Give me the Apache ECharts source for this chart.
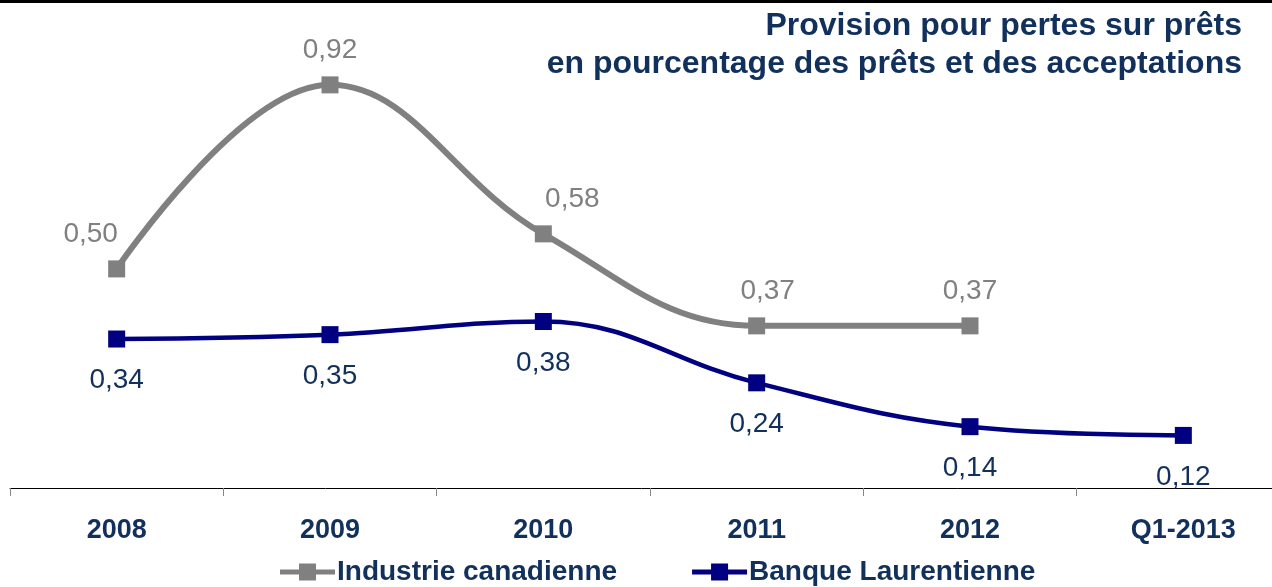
<!DOCTYPE html>
<html>
<head>
<meta charset="utf-8">
<script src="https://cdn.jsdelivr.net/npm/echarts@6/dist/echarts.min.js"></script>
<style>
  html, body { margin: 0; padding: 0; background: #fff; }
  #chart { width: 1272px; height: 587px; }
</style>
</head>
<body>
<div id="chart"></div>
<script>
// categories and values
var years = ['2008', '2009', '2010', '2011', '2012', 'Q1-2013'];
var industrie = [0.50, 0.92, 0.58, 0.37, 0.37, null];
var laurentienne = [0.34, 0.35, 0.38, 0.24, 0.14, 0.12];

var navyText = '#12305c';
var fmt = function (p) { return p.value == null ? '' : p.value.toFixed(2).replace('.', ','); };

// small sideways nudges for the grey labels, as in the picture
var greyShift = [-26, 0, 29, 11, 0, 0];
var greyData = industrie.map(function (v, i) {
    return { value: v, label: { offset: [greyShift[i], 0] } };
});

// legend icon : thick line with a square in the middle
var legendIcon = 'path://M0,6 L19,6 L19,0 L36,0 L36,6 L55,6 L55,11 L36,11 L36,17 L19,17 L19,11 L0,11 Z';

var chart = echarts.init(document.getElementById('chart'));
var option = {
    animation: false,
    grid: {
        left: 10,
        top: 6,
        width: 1280,
        height: 482,
        outerBoundsMode: 'none'
    },
    xAxis: {
        type: 'category',
        data: years,
        boundaryGap: true,
        axisLine: { lineStyle: { color: '#000', width: 1 } },
        axisTick: { show: true, length: 8, lineStyle: { color: '#888' } },
        axisLabel: {
            margin: 29,
            color: navyText,
            fontFamily: 'Liberation Sans',
            fontWeight: 'bold',
            fontSize: 27
        }
    },
    yAxis: {
        type: 'value',
        min: 0,
        max: 1.1,
        show: false,
        splitLine: { show: false }
    },
    legend: {
        top: 553,
        left: 275,
        itemWidth: 55,
        itemHeight: 17,
        itemGap: 75,
        icon: legendIcon,
        textStyle: {
            color: navyText,
            fontFamily: 'Liberation Sans',
            fontWeight: 'bold',
            fontSize: 28,
            padding: [0, 0, 0, -3]
        },
        data: ['Industrie canadienne', 'Banque Laurentienne']
    },
    series: [
        {
            name: 'Industrie canadienne',
            type: 'line',
            data: greyData,
            smooth: 0.4,
            symbol: 'rect',
            symbolSize: 17,
            color: '#808080',
            lineStyle: { color: '#808080', width: 6 },
            itemStyle: { color: '#808080' },
            label: {
                show: true,
                position: 'top',
                distance: 12,
                color: '#808080',
                fontFamily: 'Liberation Sans',
                fontSize: 28,
                formatter: fmt
            }
        },
        {
            name: 'Banque Laurentienne',
            type: 'line',
            data: laurentienne,
            smooth: 0.4,
            symbol: 'rect',
            symbolSize: 17,
            color: '#000080',
            lineStyle: { color: '#000080', width: 4.5 },
            itemStyle: { color: '#000080' },
            label: {
                show: true,
                position: 'bottom',
                distance: 19,
                color: navyText,
                fontFamily: 'Liberation Sans',
                fontSize: 28,
                formatter: fmt
            }
        }
    ],
    graphic: [
        {
            type: 'rect',
            left: 0,
            top: 0,
            shape: { width: 1272, height: 3 },
            style: { fill: '#000' }
        },
        {
            type: 'text',
            right: 30,
            top: 7,
            style: {
                text: 'Provision pour pertes sur prêts\nen pourcentage des prêts et des acceptations',
                textAlign: 'right',
                fill: navyText,
                fontFamily: 'Liberation Sans',
                fontWeight: 'bold',
                fontSize: 32,
                lineHeight: 38
            }
        }
    ]
};
chart.setOption(option);
</script>
</body>
</html>
